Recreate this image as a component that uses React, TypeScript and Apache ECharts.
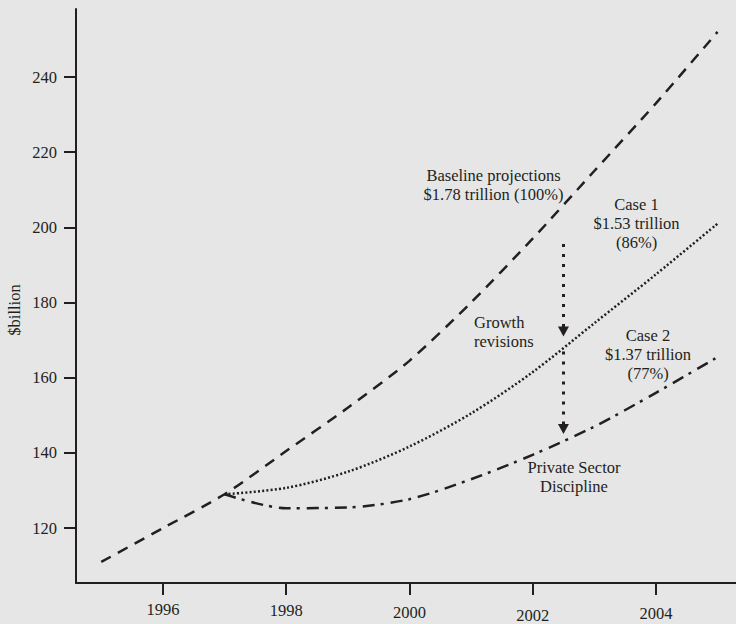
import React, { useEffect, useRef } from "react";
import * as echarts from "echarts";

// ---- data ----
const baselineYears = [1995, 1996, 1997, 1998, 1999, 2000, 2001, 2002, 2003, 2004, 2005];
const baselineValues = [111, 120, 129, 140.5, 152, 164.5, 180, 197, 215, 233, 252];
const caseYears = [1997, 1998, 1999, 2000, 2001, 2002, 2003, 2004, 2005];
const case1Values = [129, 130.7, 135, 141.7, 150.5, 161.5, 174.5, 187.5, 201];
const case2Values = [129, 125.3, 125.5, 127.7, 133, 139.5, 147, 156, 165.5];
const xTicks = [1996, 1998, 2000, 2002, 2004];
const yTicks = [120, 140, 160, 180, 200, 220, 240];
const arrowYear = 2002.5;
const growthArrow = [195.6, 172.3];
const disciplineArrow = [167, 146.4];

const INK = "#231f20";
const FONT = "Liberation Serif";

export default function App() {
  const ref = useRef<HTMLDivElement>(null);
  useEffect(() => {
    if (!ref.current) return;
    const chart = echarts.init(ref.current, null, { renderer: "svg" });
    const shift: Record<string, string> = { "1996": "a", "1998": "b", "2000": "c", "2002": "e", "2004": "d" };
    const txt = (text: string, x: number, y: number, align: string = "center") => ({
      type: "text",
      x,
      y,
      silent: true,
      style: {
        text,
        textAlign: align,
        textVerticalAlign: "middle",
        fontFamily: FONT,
        fontSize: 16.5,
        lineHeight: 19,
        fill: INK,
      },
    });
    chart.setOption({
      animation: false,
      backgroundColor: "#e6e6e6",
      grid: { left: 76, right: 0, top: 9, bottom: 39 },
      xAxis: {
        type: "value",
        min: 1994.59,
        max: 2005.3,
        splitLine: { show: false },
        axisLine: { show: true, lineStyle: { color: INK, width: 2 } },
        axisTick: { show: true, length: 12, customValues: xTicks, lineStyle: { color: INK, width: 2 } },
        axisLabel: {
          customValues: xTicks,
          margin: 18,
          formatter: (v: number) => `{${shift[String(v)] || "a"}|${v}}`,
          rich: {
            a: { fontFamily: FONT, fontSize: 16.5, color: INK, padding: [0, 0, 0, 0] },
            b: { fontFamily: FONT, fontSize: 16.5, color: INK, padding: [1, 0, 0, 0] },
            c: { fontFamily: FONT, fontSize: 16.5, color: INK, padding: [3, 0, 0, 0] },
            d: { fontFamily: FONT, fontSize: 16.5, color: INK, padding: [4, 0, 0, 0] },
            e: { fontFamily: FONT, fontSize: 16.5, color: INK, padding: [6, 0, 0, 0] },
          },
        },
      },
      yAxis: {
        type: "value",
        min: 105.4,
        max: 258.1,
        splitLine: { show: false },
        axisLine: { show: true, lineStyle: { color: INK, width: 2 } },
        axisTick: { show: true, length: 12, customValues: yTicks, lineStyle: { color: INK, width: 2 } },
        axisLabel: { customValues: yTicks, margin: 19, fontFamily: FONT, fontSize: 16.5, color: INK },
      },
      series: [
        {
          type: "line",
          name: "Baseline",
          data: baselineYears.map((y, i) => [y, baselineValues[i]]),
          showSymbol: false,
          smooth: 0.25,
          silent: true,
          lineStyle: { color: INK, width: 2.5, type: [11, 8] },
        },
        {
          type: "line",
          name: "Case 1",
          data: caseYears.map((y, i) => [y, case1Values[i]]),
          showSymbol: false,
          smooth: 0.3,
          silent: true,
          lineStyle: { color: INK, width: 2.5, type: [2, 2.2] },
          markLine: {
            silent: true,
            symbol: ["none", "triangle"],
            symbolSize: [11, 10],
            label: { show: false },
            lineStyle: { color: INK, width: 3, type: [3, 7] },
            itemStyle: { color: INK },
            data: [
              [{ coord: [arrowYear, growthArrow[0]] }, { coord: [arrowYear, growthArrow[1]] }],
              [{ coord: [arrowYear, disciplineArrow[0]] }, { coord: [arrowYear, disciplineArrow[1]] }],
            ],
          },
        },
        {
          type: "line",
          name: "Case 2",
          data: caseYears.map((y, i) => [y, case2Values[i]]),
          showSymbol: false,
          smooth: 0.3,
          silent: true,
          lineStyle: { color: INK, width: 2.5, type: [12, 6, 3, 7] },
        },
      ],
      graphic: [
        txt("Baseline projections\n$1.78 trillion (100%)", 493.5, 185.2),
        txt("Case 1\n$1.53 trillion\n(86%)", 636.5, 223.3),
        txt("Growth\nrevisions", 474, 332.2, "left"),
        txt("Case 2\n$1.37 trillion\n(77%)", 648, 354.2),
        txt("Private Sector\nDiscipline", 574, 477),
        {
          type: "text",
          x: 14,
          y: 310,
          rotation: Math.PI / 2,
          silent: true,
          style: {
            text: "$billion",
            textAlign: "center",
            textVerticalAlign: "middle",
            fontFamily: FONT,
            fontSize: 16.5,
            fill: INK,
          },
        },
      ],
    });
    return () => chart.dispose();
  }, []);
  return (
    <div
      ref={ref}
      style={{ position: "fixed", left: 0, top: 0, width: 736, height: 624, background: "#e6e6e6" }}
    />
  );
}
